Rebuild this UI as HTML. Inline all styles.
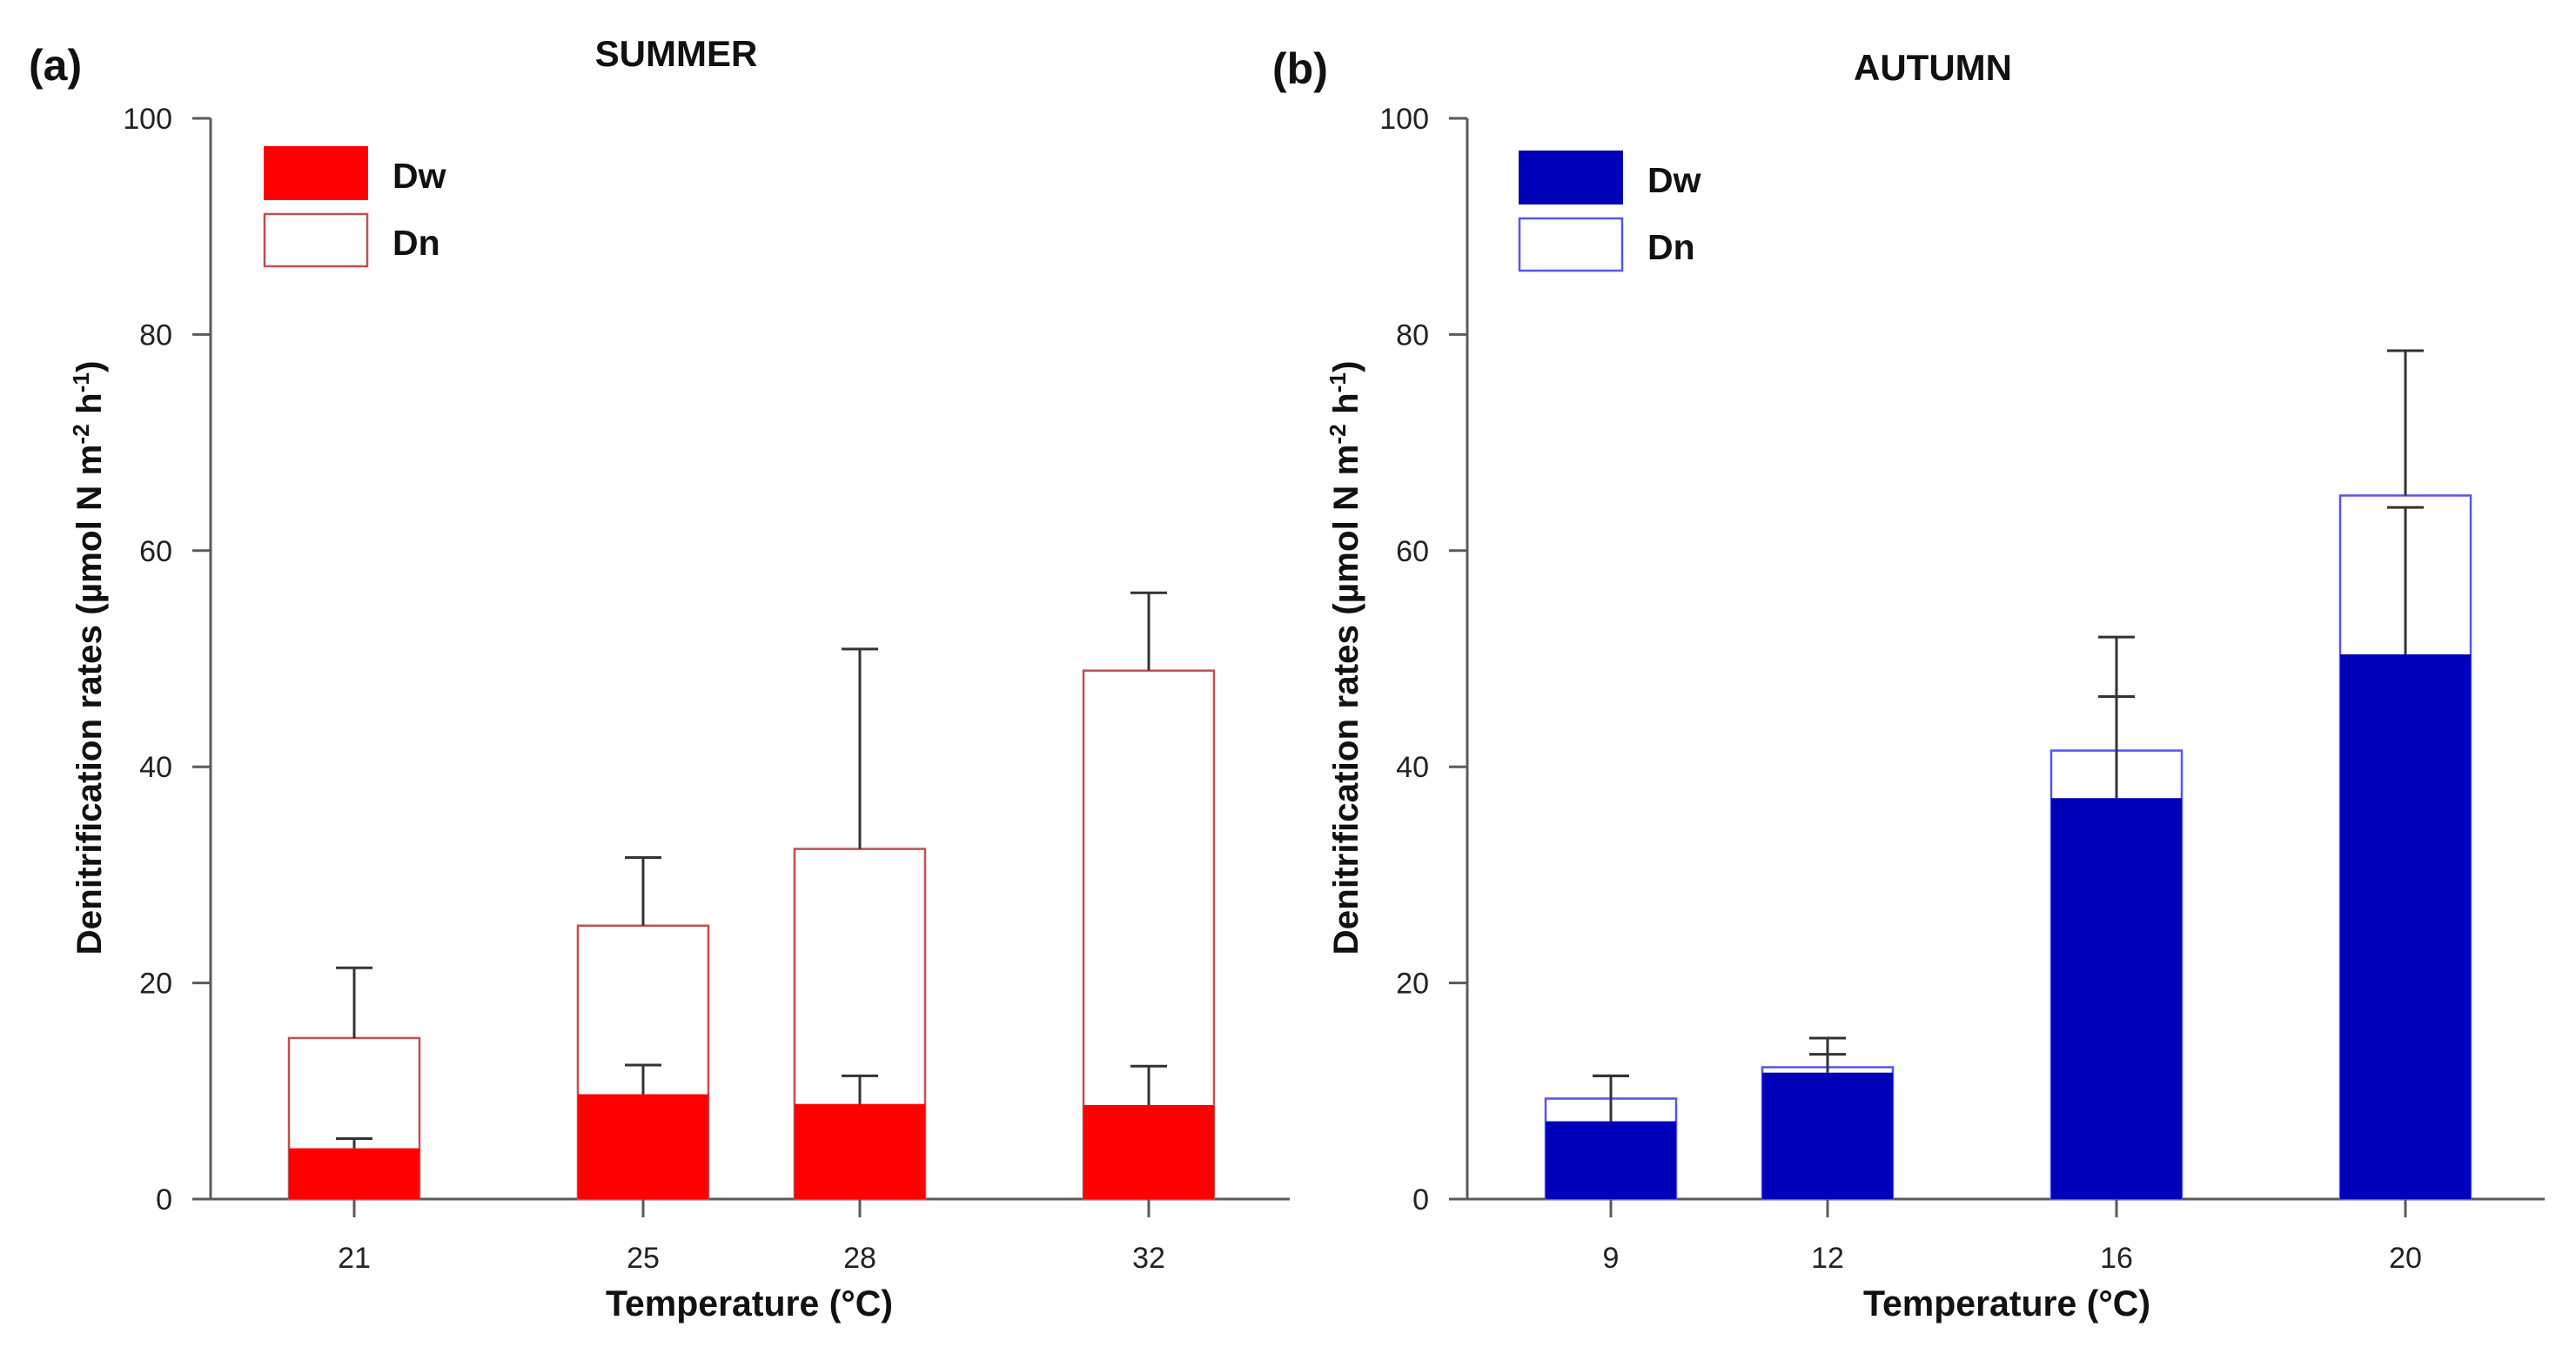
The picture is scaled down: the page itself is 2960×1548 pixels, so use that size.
<!DOCTYPE html>
<html><head><meta charset="utf-8"><style>
html,body{margin:0;padding:0;background:#fff;}
svg{display:block;font-family:"Liberation Sans",sans-serif;}
</style></head><body>
<svg id="fig" width="2960" height="1548" viewBox="0 0 2960 1548" xmlns="http://www.w3.org/2000/svg">
<rect width="2960" height="1548" fill="#fff"/>
</svg>
<script>
const summerTemps = [21, 25, 28, 32];
const summerDw = [4.7, 9.7, 8.8, 8.7];
const summerDwErr = [5.6, 12.4, 11.4, 12.3];
const summerTotal = [14.9, 25.3, 32.4, 48.9];
const summerTotalErr = [21.4, 31.6, 50.9, 56.1];
const autumnTemps = [9, 12, 16, 20];
const autumnDw = [7.2, 11.7, 37.1, 50.4];
const autumnDwErr = [11.4, 13.4, 46.5, 64.0];
const autumnTotal = [9.3, 12.2, 41.5, 65.1];
const autumnTotalErr = [11.4, 14.9, 52.0, 78.5];
const yTicks = [0, 20, 40, 60, 80, 100];

const NS = 'http://www.w3.org/2000/svg';
const svg = document.getElementById('fig');
function mk(tag, attrs, parent, text) {
  const e = document.createElementNS(NS, tag);
  for (const k in attrs) e.setAttribute(k, attrs[k]);
  if (text !== undefined) e.textContent = text;
  (parent || svg).appendChild(e);
  return e;
}

function panel(cfg) {
  const g = mk('g', {});
  
  
  const y0 = 1378, y100 = 136;
  const yS = v => y0 - (v / 100) * (y0 - y100);
  const xS = t => cfg.xRef + (t - cfg.tRef) * 83.0;
  const axisCol = '#5a5a5a';
  // y axis
  const ya = mk('line', {x1: cfg.axisX, y1: y100, x2: cfg.axisX, y2: y0, stroke: axisCol, 'stroke-width': 3}, g);
  
  
  const xa = mk('line', {x1: cfg.axisX, y1: y0, x2: cfg.axisEnd, y2: y0, stroke: axisCol, 'stroke-width': 3}, g);
  
  
  yTicks.forEach(v => {
    mk('line', {x1: cfg.axisX - 21, y1: yS(v), x2: cfg.axisX, y2: yS(v), stroke: axisCol, 'stroke-width': 3}, g);
    const t = mk('text', {x: cfg.axisX - 44, y: yS(v) + 12, 'text-anchor': 'end', 'font-size': 34, fill: '#222'}, g, String(v));
    
    
  });
  cfg.temps.forEach((tp, i) => {
    const cx = xS(tp), w = 150;
    // total (Dn outline)
    const tot = mk('rect', {x: cx - w/2, y: yS(cfg.total[i]), width: w, height: yS(0) - yS(cfg.total[i]), fill: '#fff', stroke: cfg.outline, 'stroke-width': 2.5}, g);
    
    
    const dw = mk('rect', {x: cx - w/2, y: yS(cfg.dw[i]), width: w, height: yS(0) - yS(cfg.dw[i]), fill: cfg.fill}, g);
    
    
    // error bars
    [[cfg.dw[i], cfg.dwErr[i]], [cfg.total[i], cfg.totalErr[i]]].forEach(([base, top]) => {
      const eb = mk('path', {d: `M${cx},${yS(base)} L${cx},${yS(top)} M${cx-21},${yS(top)} L${cx+21},${yS(top)}`, stroke: '#333', 'stroke-width': 3, fill: 'none'}, g);
      
      
    });
    mk('line', {x1: cx, y1: y0, x2: cx, y2: y0 + 21, stroke: axisCol, 'stroke-width': 3}, g);
    const xl = mk('text', {x: cx, y: 1457, 'text-anchor': 'middle', 'font-size': 34, fill: '#222'}, g, String(tp));
    
    
  });
  // legend
  const lg = mk('g', {}, g);
  
  
  mk('rect', {x: cfg.legX, y: cfg.legY, width: 120, height: 62, fill: cfg.fill}, lg);
  mk('rect', {x: cfg.legX + 1, y: cfg.legY + 78, width: 118, height: 60, fill: '#fff', stroke: cfg.outline, 'stroke-width': 2.5}, lg);
  mk('text', {x: cfg.legX + 148, y: cfg.legY + 48, 'font-size': 41, 'font-weight': 'bold', fill: '#111'}, lg, 'Dw');
  mk('text', {x: cfg.legX + 148, y: cfg.legY + 125, 'font-size': 41, 'font-weight': 'bold', fill: '#111'}, lg, 'Dn');
  // titles
  const tt = mk('text', {x: cfg.titleX, y: cfg.titleY, 'text-anchor': 'middle', 'font-size': 42, 'font-weight': 'bold', fill: '#111'}, g, cfg.title);
  
  
  const pl = mk('text', {x: cfg.labX, y: cfg.labY, 'font-size': 50, 'font-weight': 'bold', fill: '#111'}, g, cfg.lab);
  
  
  const xt = mk('text', {x: cfg.xTitleX, y: 1512, 'text-anchor': 'middle', 'font-size': 42, 'font-weight': 'bold', fill: '#111', textLength: 330, lengthAdjust: 'spacingAndGlyphs'}, g, 'Temperature (°C)');
  
  
  const yt = mk('text', {x: 0, y: 0, 'text-anchor': 'middle', 'font-size': 40, 'font-weight': 'bold', fill: '#111', transform: `translate(${cfg.yTitleX},756) rotate(-90)`, textLength: 683, lengthAdjust: 'spacingAndGlyphs'}, g);
  
  
  yt.appendChild(document.createTextNode('Denitrification rates (µmol N m'));
  const s1 = mk('tspan', {'font-size': 26, dy: -14}, yt, '-2');
  mk('tspan', {dy: 14}, yt, ' h');
  mk('tspan', {'font-size': 26, dy: -14}, yt, '-1');
  mk('tspan', {dy: 14}, yt, ')');
}

panel({name: 'summer-panel', temps: summerTemps, dw: summerDw, dwErr: summerDwErr, total: summerTotal, totalErr: summerTotalErr,
  xRef: 407, tRef: 21, axisX: 242, axisEnd: 1482, fill: '#ff0000', outline: '#c05050',
  legX: 303, legY: 168, title: 'SUMMER', titleX: 777, titleY: 76, lab: '(a)', labX: 33, labY: 92, xTitleX: 861, yTitleX: 116});
panel({name: 'autumn-panel', temps: autumnTemps, dw: autumnDw, dwErr: autumnDwErr, total: autumnTotal, totalErr: autumnTotalErr,
  xRef: 1851, tRef: 9, axisX: 1686, axisEnd: 2924, fill: '#0000bb', outline: '#5555ee',
  legX: 1745, legY: 173, title: 'AUTUMN', titleX: 2221, titleY: 92, lab: '(b)', labX: 1462, labY: 96, xTitleX: 2306, yTitleX: 1560});
</script>
</body></html>
